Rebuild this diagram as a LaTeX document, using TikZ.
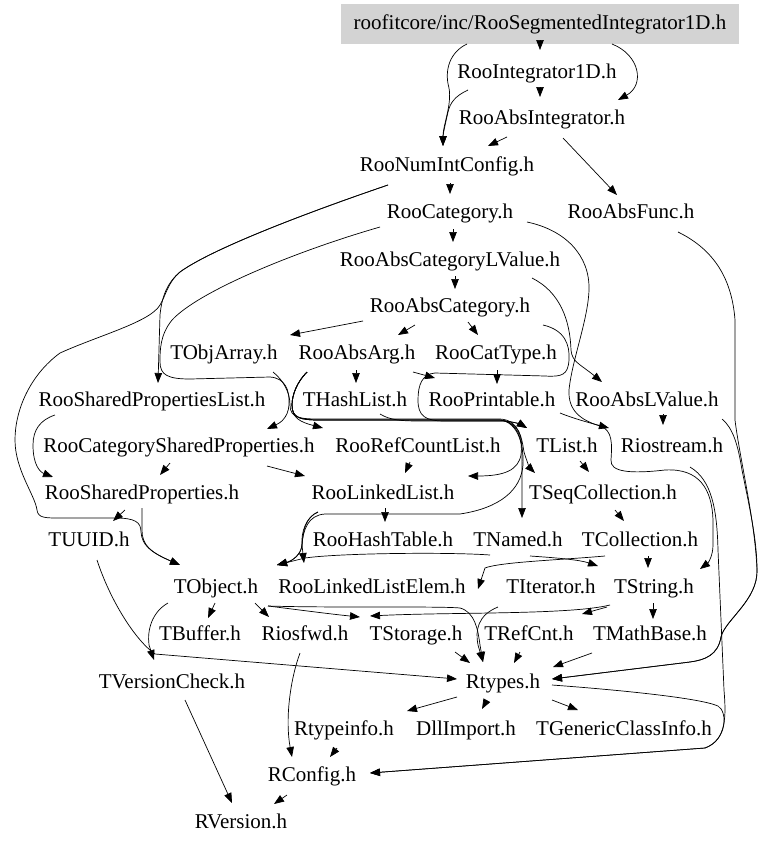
\documentclass[tikz,border=0pt]{standalone}
\usepackage{fontspec}
\setmainfont{Liberation Serif}
\usetikzlibrary{arrows.meta}
\definecolor{segfill}{RGB}{211,211,211}
\begin{document}
\begin{tikzpicture}[x=1pt,y=-1pt,
  every node/.style={font=\fontsize{21}{25}\selectfont, inner sep=0pt, text height=14pt, text depth=4pt},
  dep/.style={-{Triangle[length=10pt,width=7.5pt]}, line width=0.7pt, black}]
\useasboundingbox (0,0) rectangle (779,847);
\fill[white] (0,0) rectangle (779,847);
% nodes
\node[fill=segfill, minimum width=398pt, minimum height=40pt] (seg) at (540,24) {roofitcore/inc/RooSegmentedIntegrator1D.h};
\node (i1d) at (537,73) {RooIntegrator1D.h};
\node (absint) at (542,119) {RooAbsIntegrator.h};
\node (numint) at (447,166) {RooNumIntConfig.h};
\node (cat) at (450,213) {RooCategory.h};
\node (absfunc) at (631,213) {RooAbsFunc.h};
\node (catlv) at (450,261) {RooAbsCategoryLValue.h};
\node (abscat) at (450,307) {RooAbsCategory.h};
\node (objarr) at (224,354) {TObjArray.h};
\node (absarg) at (357,354) {RooAbsArg.h};
\node (cattype) at (496,354) {RooCatType.h};
\node (splist) at (152,401) {RooSharedPropertiesList.h};
\node (hashlist) at (355,401) {THashList.h};
\node (printable) at (492,401) {RooPrintable.h};
\node (abslv) at (647,401) {RooAbsLValue.h};
\node (csp) at (179,447) {RooCategorySharedProperties.h};
\node (refcount) at (418,447) {RooRefCountList.h};
\node (tlist) at (567,447) {TList.h};
\node (riostream) at (672,447) {Riostream.h};
\node (sprop) at (142,494) {RooSharedProperties.h};
\node (linked) at (383,494) {RooLinkedList.h};
\node (seqcoll) at (603,494) {TSeqCollection.h};
\node (tuuid) at (89,541) {TUUID.h};
\node (hashtable) at (383,541) {RooHashTable.h};
\node (tnamed) at (518,541) {TNamed.h};
\node (tcoll) at (640,541) {TCollection.h};
\node (tobject) at (216,588) {TObject.h};
\node (llelem) at (372,588) {RooLinkedListElem.h};
\node (titer) at (551,588) {TIterator.h};
\node (tstring) at (654,588) {TString.h};
\node (tbuffer) at (200,635) {TBuffer.h};
\node (riosfwd) at (305,635) {Riosfwd.h};
\node (tstorage) at (416,635) {TStorage.h};
\node (trefcnt) at (529,635) {TRefCnt.h};
\node (tmath) at (650,635) {TMathBase.h};
\node (tvc) at (172,683) {TVersionCheck.h};
\node (rtypes) at (503,683) {Rtypes.h};
\node (rtinfo) at (344,730) {Rtypeinfo.h};
\node (dll) at (466,730) {DllImport.h};
\node (tgci) at (624,730) {TGenericClassInfo.h};
\node (rconfig) at (312,776) {RConfig.h};
\node (rversion) at (241,823) {RVersion.h};
% edges
\draw[dep] ([shift={(0,20)}]seg.center) -- ([shift={(3,-23)}]i1d.center);
\draw[dep] ([shift={(72,20)}]seg.center) .. controls (640,55) and (645,85) .. ([shift={(76,-19)}]absint.center);
\draw[dep] ([shift={(-73,20)}]seg.center) .. controls (450,52) and (444,70) .. (449,88) .. controls (452,105) and (443,125) .. ([shift={(-4,-20)}]numint.center);
\draw[dep] ([shift={(3,15)}]i1d.center) -- ([shift={(-2,-22)}]absint.center);
\draw[dep] ([shift={(-69,17)}]i1d.center) .. controls (455,96) and (450,103) .. (448,112) .. controls (445,125) and (443,135) .. ([shift={(-4,-20)}]numint.center);
\draw[dep] ([shift={(-35,18)}]absint.center) -- ([shift={(41,-20)}]numint.center);
\draw[dep] ([shift={(21,19)}]absint.center) -- ([shift={(-14,-18)}]absfunc.center);
\draw[dep] ([shift={(3,17)}]numint.center) -- ([shift={(0,-19)}]cat.center);
\draw[dep] ([shift={(3,16)}]cat.center) -- ([shift={(3,-19)}]catlv.center);
\draw[dep] ([shift={(5,15)}]catlv.center) -- ([shift={(5,-18)}]abscat.center);
\draw[dep] ([shift={(-87,14)}]abscat.center) -- ([shift={(66,-19)}]objarr.center);
\draw[dep] ([shift={(-35,18)}]abscat.center) -- ([shift={(41,-19)}]absarg.center);
\draw[dep] ([shift={(18,15)}]abscat.center) -- ([shift={(-18,-19)}]cattype.center);
\draw[dep] ([shift={(82,17)}]catlv.center) .. controls (560,292) and (570,320) .. (571,350) .. controls (572,362) and (580,364) .. ([shift={(-45,-19)}]abslv.center);
\draw[dep] ([shift={(77,9)}]cat.center) .. controls (565,230) and (590,255) .. (589,290) .. controls (588,320) and (572,360) .. (569,390) .. controls (568,410) and (580,420) .. (600,426) .. controls (613,430) and (612,445) .. (611,460) .. controls (610,472) and (630,474) .. (665,470) .. controls (700,468) and (712,490) .. (713,520) -- (713,545) .. controls (713,556) and (708,563) .. ([shift={(46,-19)}]tstring.center);
\draw[dep] ([shift={(93,18)}]abscat.center) .. controls (565,330) and (570,345) .. (569,360) .. controls (568,375) and (562,377) .. (545,376) -- (435,373) .. controls (422,374) and (418,385) .. (418,400) .. controls (418,416) and (425,421) .. (445,421) -- (505,421) .. controls (515,422) and (522,425) .. ([shift={(-40,-19)}]tlist.center);
\draw[dep] ([shift={(-70,14)}]cat.center) .. controls (300,250) and (200,290) .. (172,320) .. controls (160,335) and (160,350) .. (160,362) .. controls (160,375) and (168,379) .. (190,379) -- (270,377) .. controls (285,378) and (290,390) .. (289,405) .. controls (288,418) and (280,423) .. ([shift={(88,-18)}]csp.center);
\draw[dep] ([shift={(-59,19)}]numint.center) .. controls (300,215) and (210,250) .. (180,272) .. controls (168,282) and (162,295) .. (160,315) -- ([shift={(6,-18)}]splist.center);
\draw[dep] ([shift={(-59,19)}]numint.center) .. controls (300,215) and (210,250) .. (180,272) .. controls (168,282) and (166,295) .. (160,305) .. controls (150,322) and (100,335) .. (60,353) .. controls (30,375) and (15,410) .. (15,440) .. controls (15,470) and (35,495) .. (37,510) .. controls (38,518) and (45,518) .. (60,518) -- (115,518) .. controls (135,518) and (141,522) .. (141,532) .. controls (142,545) and (150,552) .. ([shift={(-36,-23)}]tobject.center);
\draw[dep] ([shift={(0,14)}]sprop.center) -- (142,530) .. controls (142,545) and (150,552) .. ([shift={(-36,-23)}]tobject.center);
\draw[dep] ([shift={(-17,16)}]sprop.center) -- ([shift={(24,-20)}]tuuid.center);
\draw[dep] ([shift={(-97,14)}]splist.center) .. controls (40,420) and (33,430) .. (33,445) .. controls (33,465) and (40,472) .. ([shift={(-89,-17)}]sprop.center);
\draw[dep] ([shift={(-9,16)}]csp.center) -- ([shift={(18,-19)}]sprop.center);
\draw[dep] ([shift={(88,19)}]csp.center) -- ([shift={(-78,-18)}]linked.center);
\draw[dep] ([shift={(-8,15)}]refcount.center) -- ([shift={(22,-21)}]linked.center);
\draw[dep] ([shift={(-1,16)}]absarg.center) -- ([shift={(1,-18)}]hashlist.center);
\draw[dep] ([shift={(56,18)}]absarg.center) -- ([shift={(-57,-23)}]printable.center);
\draw[dep] ([shift={(1,16)}]cattype.center) -- ([shift={(5,-17)}]printable.center);
\draw[dep] ([shift={(68,12)}]printable.center) .. controls (572,418) and (590,423) .. ([shift={(-63,-19)}]riostream.center);
\draw[dep] ([shift={(16,13)}]abslv.center) -- ([shift={(-9,-22)}]riostream.center);
\draw[dep] ([shift={(49,18)}]objarr.center) .. controls (283,380) and (290,392) .. (290,405) .. controls (290,418) and (300,419) .. (320,419) -- (500,419) .. controls (520,420) and (522,440) .. (524,452) .. controls (527,462) and (530,468) .. ([shift={(-68,-21)}]seqcoll.center);
\draw[dep] ([shift={(-50,18)}]absarg.center) .. controls (297,382) and (292,395) .. (292,405) .. controls (292,418) and (300,422) .. ([shift={(-95,-19)}]refcount.center);
\draw[dep] ([shift={(-50,18)}]absarg.center) .. controls (297,382) and (292,395) .. (292,405) .. controls (292,418) and (300,420) .. (320,420) -- (500,420) .. controls (518,422) and (522,435) .. (522,450) -- ([shift={(4,-23)}]tnamed.center);
\draw[dep] ([shift={(-50,18)}]absarg.center) .. controls (297,382) and (292,395) .. (292,405) .. controls (292,418) and (300,420) .. (320,420) -- (500,420) .. controls (518,422) and (523,440) .. (521,455) .. controls (518,470) and (505,476) .. ([shift={(85,-18)}]linked.center);
\draw[dep] ([shift={(-50,18)}]absarg.center) .. controls (297,382) and (292,395) .. (292,405) .. controls (292,418) and (300,420) .. (320,420) -- (500,420) .. controls (518,422) and (524,445) .. (523,465) .. controls (521,490) and (500,508) .. (460,514) -- (325,514) .. controls (308,515) and (303,530) .. (302,545) .. controls (301,555) and (292,561) .. ([shift={(61,-23)}]tobject.center);
\draw[dep] ([shift={(25,13)}]hashlist.center) .. controls (390,420) and (400,421) .. (420,421) -- (505,421) .. controls (515,422) and (522,425) .. ([shift={(-40,-19)}]tlist.center);
\draw[dep] ([shift={(13,14)}]tlist.center) -- ([shift={(-14,-22)}]seqcoll.center);
\draw[dep] ([shift={(2,14)}]linked.center) -- ([shift={(2,-19)}]hashtable.center);
\draw[dep] ([shift={(-65,18)}]linked.center) .. controls (306,517) and (303,530) .. (302,545) .. controls (301,555) and (292,561) .. ([shift={(61,-23)}]tobject.center);
\draw[dep] ([shift={(-65,18)}]linked.center) .. controls (306,517) and (301,532) .. (302,545) -- ([shift={(-68,-25)}]llelem.center);
\draw[dep] ([shift={(12,16)}]seqcoll.center) -- ([shift={(-16,-20)}]tcoll.center);
\draw[dep] ([shift={(8,15)}]tcoll.center) -- ([shift={(-6,-20)}]tstring.center);
\draw[dep] ([shift={(-28,14)}]tnamed.center) .. controls (450,552) and (340,553) .. (305,558) -- ([shift={(61,-23)}]tobject.center);
\draw[dep] ([shift={(12,15)}]tnamed.center) .. controls (560,558) and (580,560) .. ([shift={(-56,-22)}]tstring.center);
\draw[dep] ([shift={(-35,15)}]tcoll.center) .. controls (560,560) and (500,562) .. (485,568) -- ([shift={(-73,1)}]titer.center);
\draw[dep] ([shift={(-1,15)}]tobject.center) -- ([shift={(8,-17)}]tbuffer.center);
\draw[dep] ([shift={(39,15)}]tobject.center) -- ([shift={(-36,-18)}]riosfwd.center);
\draw[dep] ([shift={(52,18)}]tobject.center) .. controls (300,610) and (330,614) .. ([shift={(-56,-18)}]tstorage.center);
\draw[dep] ([shift={(-44,17)}]tstring.center) .. controls (570,615) and (450,612) .. ([shift={(-46,-19)}]tstorage.center);
\draw[dep] ([shift={(52,18)}]tobject.center) .. controls (330,608) and (440,606) .. (460,608) .. controls (475,612) and (478,630) .. (480,645) -- ([shift={(-20,-21)}]rtypes.center);
\draw[dep] ([shift={(-53,19)}]titer.center) .. controls (478,615) and (475,630) .. (478,645) -- ([shift={(-20,-21)}]rtypes.center);
\draw[dep] ([shift={(-47,19)}]tstring.center) -- ([shift={(53,-21)}]trefcnt.center);
\draw[dep] ([shift={(-1,15)}]tstring.center) -- ([shift={(3,-16)}]tmath.center);
\draw[dep] ([shift={(39,17)}]tstorage.center) -- ([shift={(-33,-20)}]rtypes.center);
\draw[dep] ([shift={(-9,17)}]trefcnt.center) -- ([shift={(11,-20)}]rtypes.center);
\draw[dep] ([shift={(-58,18)}]tmath.center) -- ([shift={(50,-16)}]rtypes.center);
\draw[dep] ([shift={(47,19)}]absfunc.center) .. controls (715,250) and (732,280) .. (735,320) -- (735,420) .. controls (740,460) and (755,520) .. (757,570) .. controls (758,600) and (725,620) .. (721,637) .. controls (718,655) and (705,660) .. (690,662) -- ([shift={(49,-4)}]rtypes.center);
\draw[dep] ([shift={(75,18)}]abslv.center) .. controls (733,428) and (738,445) .. (742,470) .. controls (750,510) and (757,540) .. (757,570) .. controls (758,600) and (725,620) .. (721,637) .. controls (718,655) and (705,660) .. (690,662) -- ([shift={(49,-4)}]rtypes.center);
\draw[dep] ([shift={(18,20)}]riostream.center) .. controls (712,480) and (717,510) .. (718,550) -- (724,690) .. controls (726,715) and (727,740) .. (705,748) -- ([shift={(58,-3)}]rconfig.center);
\draw[dep] ([shift={(49,2)}]rtypes.center) .. controls (620,690) and (700,698) .. (718,706) .. controls (728,712) and (727,740) .. (705,748) -- ([shift={(58,-3)}]rconfig.center);
\draw[dep] ([shift={(8,19)}]tuuid.center) .. controls (110,600) and (135,640) .. (155,654) -- ([shift={(-46,-4)}]rtypes.center);
\draw[dep] ([shift={(-48,15)}]tobject.center) .. controls (152,612) and (147,630) .. (149,645) -- ([shift={(-18,-23)}]tvc.center);
\draw[dep] ([shift={(13,17)}]tvc.center) -- ([shift={(-9,-20)}]rversion.center);
\draw[dep] ([shift={(-5,18)}]riosfwd.center) .. controls (290,680) and (285,720) .. ([shift={(-20,-19)}]rconfig.center);
\draw[dep] ([shift={(-46,14)}]rtypes.center) -- ([shift={(63,-19)}]rtinfo.center);
\draw[dep] ([shift={(-16,17)}]rtypes.center) -- ([shift={(16,-21)}]dll.center);
\draw[dep] ([shift={(49,17)}]rtypes.center) -- ([shift={(-46,-20)}]tgci.center);
\draw[dep] ([shift={(-7,18)}]rtinfo.center) -- ([shift={(18,-19)}]rconfig.center);
\draw[dep] ([shift={(-25,19)}]rconfig.center) -- ([shift={(33,-19)}]rversion.center);
\end{tikzpicture}
\end{document}
